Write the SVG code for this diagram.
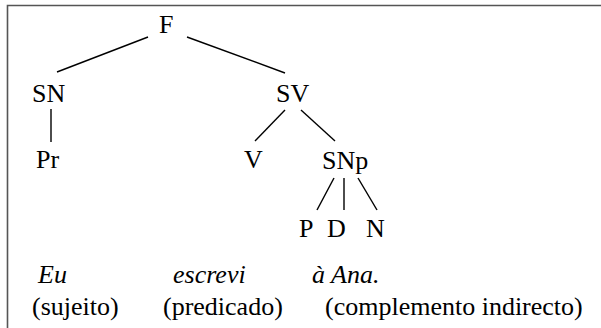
<svg xmlns="http://www.w3.org/2000/svg" width="601" height="328" viewBox="0 0 601 328">
<style>
text{font-family:'Liberation Serif','Times New Roman',serif;font-size:26px;fill:#000}
.it{font-style:italic}
.e{stroke:#000;stroke-width:1.4;fill:none}
</style>
<rect x="0" y="0" width="601" height="328" fill="#fff"/>
<path d="M7.5,340 V5.5 H620" fill="none" stroke="#555" stroke-width="1.6"/>
<g id="connectors">
<line class="e" x1="148" y1="37" x2="57" y2="72"/>
<line class="e" x1="187" y1="37" x2="285" y2="73"/>
<line class="e" x1="51" y1="109" x2="51" y2="142"/>
<line class="e" x1="285" y1="110" x2="255" y2="141"/>
<line class="e" x1="301" y1="110" x2="335" y2="141"/>
<line class="e" x1="334" y1="178" x2="317" y2="210"/>
<line class="e" x1="344" y1="178" x2="344" y2="210"/>
<line class="e" x1="358" y1="178" x2="377" y2="210"/>
</g>
<g id="F"><text x="159" y="33">F</text></g>
<g id="SN"><text x="32" y="102">SN</text></g>
<g id="Pr"><text x="36" y="168">Pr</text></g>
<g id="SV"><text x="276" y="102">SV</text></g>
<g id="V"><text x="244" y="168">V</text></g>
<g id="SNp"><text x="322" y="169">SNp</text></g>
<g id="P"><text x="299" y="237">P</text></g>
<g id="D"><text x="327" y="237">D</text></g>
<g id="N"><text x="366" y="237">N</text></g>
<g id="sentence">
<text class="it" x="38" y="283">Eu</text>
<text class="it" x="173" y="283">escrevi</text>
<text class="it" x="312" y="283">à Ana.</text>
<text x="32" y="315">(sujeito)</text>
<text x="163" y="315">(predicado)</text>
<text x="325" y="315">(complemento indirecto)</text>
</g>
</svg>
